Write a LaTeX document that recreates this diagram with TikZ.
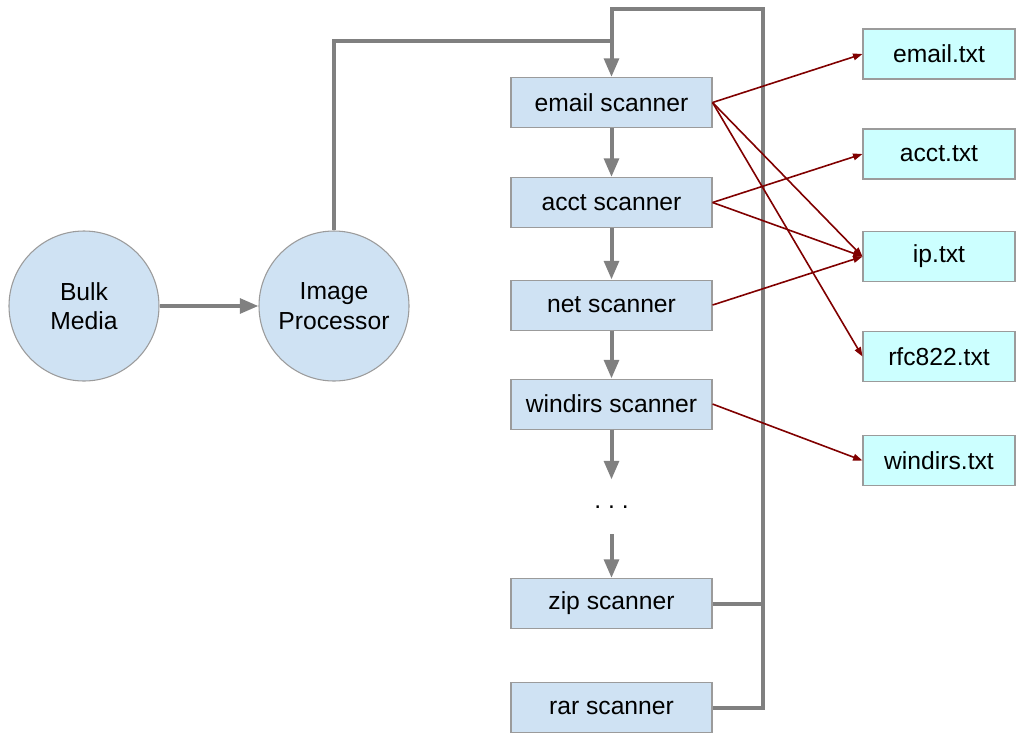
\documentclass[tikz,border=0pt]{standalone}
\usepackage{fontspec}
\setmainfont{Liberation Sans}
\usetikzlibrary{arrows.meta,positioning,calc}
\definecolor{scanblue}{RGB}{207,226,243}
\definecolor{filecyan}{RGB}{204,255,255}
\definecolor{flowgray}{RGB}{128,128,128}
\definecolor{edgegray}{RGB}{155,155,155}
\definecolor{darkred}{RGB}{128,0,0}

\tikzset{
  scanner/.style={draw=edgegray, line width=0.8pt, fill=scanblue, rectangle, minimum width=150.75pt, minimum height=37.5pt, inner sep=0pt},
  outfile/.style={draw=edgegray, line width=0.8pt, fill=filecyan, rectangle, minimum width=114pt, minimum height=37.5pt, inner sep=0pt},
  stage/.style={draw=edgegray, line width=0.8pt, fill=scanblue, circle, minimum size=112.5pt, inner sep=0pt, align=center},
  pipe/.style={draw=flowgray, line width=3pt},
  flow/.style={pipe, -{Triangle[length=14pt,width=11pt]}},
  feed/.style={draw=darkred, line width=1.2pt, -{Triangle[length=7pt,width=5pt]}}
}

\begin{document}
\begin{tikzpicture}[x=0.75pt, y=-0.75pt, font=\fontsize{18.5}{22}\selectfont]
    \useasboundingbox (0,0) rectangle (1021,740);

    \node[stage] (bulk) at (84,306) {Bulk\\Media};
    \node[stage] (imgproc) at (334,306) {Image\\Processor};

    % scanner column
    \node[scanner] (email) at (611.5,102.5) {email scanner};
    \node[scanner, below=36.7pt of email] (acct) {acct scanner};
    \node[scanner, below=38.6pt of acct] (net) {net scanner};
    \node[scanner, below=35.95pt of net] (windirs) {windirs scanner};
    \node[minimum height=40.5pt, inner sep=0pt, below=37.45pt of windirs] (dots) {.\ .\ .};
    \node[scanner, below=32.95pt of dots] (zip) {zip scanner};
    \node[scanner, below=39.7pt of zip] (rar) {rar scanner};

    % output files
    \node[outfile] (emailtxt) at (939,54) {email.txt};
    \node[outfile, below=36.7pt of emailtxt] (accttxt) {acct.txt};
    \node[outfile, below=38.6pt of accttxt] (iptxt) {ip.txt};
    \node[outfile, below=36.7pt of iptxt] (rfctxt) {rfc822.txt};
    \node[outfile, below=39.7pt of rfctxt] (windirstxt) {windirs.txt};

    \coordinate (merge) at (email.north |- 0,41);
    \coordinate (looptop) at (email.north |- 0,9);
    \coordinate (loopright) at (763,9);

    \draw[flow] (bulk) -- (imgproc);
    \draw[flow] (imgproc.north) |- (merge) -- (email.north);
    \draw[pipe] (rar.east) -| (loopright) -- (looptop) -- (merge);
    \draw[pipe] (zip.east) -- (zip.east -| loopright);

    \draw[flow] (email) -- (acct);
    \draw[flow] (acct) -- (net);
    \draw[flow] (net) -- (windirs);
    \draw[flow] (windirs) -- (dots);
    \draw[flow] (dots) -- (zip);

    \draw[feed] (email.east) -- (emailtxt.west);
    \draw[feed] (email.east) -- (iptxt.west);
    \draw[feed] (email.east) -- (rfctxt.west);
    \draw[feed] (acct.east) -- (accttxt.west);
    \draw[feed] (acct.east) -- (iptxt.west);
    \draw[feed] (net.east) -- (iptxt.west);
    \draw[feed] (windirs.east) -- (windirstxt.west);
\end{tikzpicture}
\end{document}
